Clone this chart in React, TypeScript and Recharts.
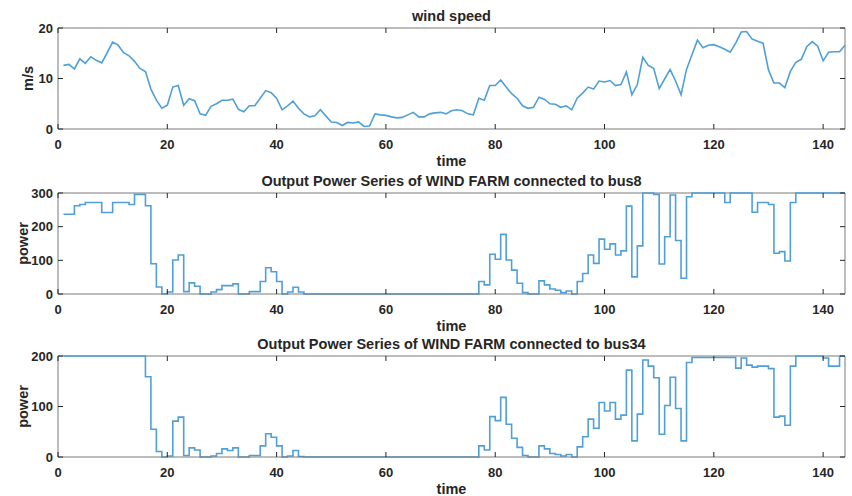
import { Line, LineChart, ReferenceLine, XAxis, YAxis } from 'recharts';

const time = Array.from({ length: 144 }, (_, i) => i + 1);

const windSpeed = [
    12.6, 12.8, 11.9, 13.9, 13.0, 14.3, 13.6, 13.1, 15.1, 17.2,
    16.6, 15.1, 14.5, 13.4, 12.0, 11.4, 7.9, 5.7, 4.1, 4.7,
    8.3, 8.6, 4.7, 6.0, 5.6, 3.0, 2.7, 4.5, 5.0, 5.7,
    5.7, 5.9, 3.9, 3.4, 4.6, 4.6, 6.1, 7.6, 7.2, 6.1,
    3.8, 4.6, 5.5, 4.1, 3.0, 2.4, 2.6, 3.8, 2.6, 1.4,
    1.3, 0.7, 1.3, 1.2, 1.4, 0.5, 0.6, 3.0, 2.8, 2.7,
    2.4, 2.2, 2.3, 2.8, 3.3, 2.4, 2.4, 3.0, 3.2, 3.3,
    3.0, 3.6, 3.8, 3.6, 3.0, 2.8, 6.1, 5.7, 8.6, 8.6,
    9.7, 8.3, 7.0, 6.1, 4.6, 4.1, 4.3, 6.3, 5.9, 5.0,
    4.9, 4.3, 4.6, 3.8, 6.1, 7.1, 8.3, 7.9, 9.5, 9.3,
    9.6, 8.6, 8.8, 11.3, 6.8, 8.8, 14.2, 12.6, 12.0, 8.0,
    9.9, 11.8, 9.5, 6.8, 11.8, 14.7, 17.6, 16.1, 16.6, 16.7,
    16.3, 15.8, 15.2, 17.0, 19.2, 19.3, 17.8, 17.4, 17.0, 11.7,
    9.1, 9.1, 8.2, 11.4, 13.2, 13.8, 16.3, 17.3, 16.4, 13.5,
    15.2, 15.3, 15.3, 16.6,
];

const powerBus8 = [
    237, 237, 262, 266, 272, 272, 272, 242, 242, 272,
    272, 272, 266, 296, 296, 262, 90, 21, 0, 6,
    101, 116, 7, 33, 23, 0, 0, 6, 13, 25,
    25, 30, 0, 0, 7, 7, 37, 78, 66, 37,
    0, 6, 20, 6, 0, 0, 0, 0, 0, 0,
    0, 0, 0, 0, 0, 0, 0, 0, 0, 0,
    0, 0, 0, 0, 0, 0, 0, 0, 0, 0,
    0, 0, 0, 0, 0, 0, 37, 27, 118, 103,
    177, 101, 71, 32, 4, 0, 0, 39, 27, 15,
    11, 4, 9, 0, 37, 61, 116, 91, 163, 133,
    149, 116, 128, 261, 51, 143, 300, 300, 296, 89,
    170, 294, 159, 47, 289, 300, 300, 300, 300, 300,
    300, 272, 300, 300, 300, 300, 243, 272, 272, 266,
    121, 126, 98, 272, 300, 300, 300, 300, 300, 300,
    300, 300, 300, 300,
];

const powerBus34 = [
    200, 200, 200, 200, 200, 200, 200, 200, 200, 200,
    200, 200, 200, 200, 200, 159, 55, 11, 0, 2,
    71, 79, 3, 18, 14, 0, 0, 2, 7, 16,
    13, 18, 0, 0, 3, 3, 22, 46, 39, 22,
    0, 2, 13, 1, 0, 0, 0, 0, 0, 0,
    0, 0, 0, 0, 0, 0, 0, 0, 0, 0,
    0, 0, 0, 0, 0, 0, 0, 0, 0, 0,
    0, 0, 0, 0, 0, 0, 22, 14, 80, 72,
    118, 65, 37, 19, 3, 0, 0, 22, 16, 7,
    5, 2, 5, 0, 20, 40, 75, 57, 108, 91,
    108, 75, 83, 172, 32, 85, 192, 180, 157, 45,
    102, 158, 96, 32, 187, 197, 197, 197, 197, 197,
    197, 197, 197, 176, 196, 182, 178, 180, 180, 175,
    79, 81, 63, 180, 200, 200, 200, 200, 200, 196,
    180, 180, 200, 200,
];

const xTicks = [0, 20, 40, 60, 80, 100, 120, 140];

const rows = time.map((t, i) => ({ time: t, speed: windSpeed[i], bus8: powerBus8[i], bus34: powerBus34[i] }));

const font = '"Liberation Sans", Arial, Helvetica, sans-serif';
const textColor = '#262626';
const axisColor = '#7a7a7a';
const lineColor = '#4f9fd8';
const plotTop = 28;
const plotH = 101;
const plotW = 787;

function XTick(props: any) {
    const { x, y, payload } = props;
    return (
        <g>
            <line x1={x} y1={y} x2={x} y2={y - 5} stroke={textColor} />
            <line x1={x} y1={y - plotH} x2={x} y2={y - plotH + 5} stroke={textColor} />
            <text x={x} y={y + 15} textAnchor="middle" dominantBaseline="central" fontFamily={font} fontSize={13} fontWeight={700} fill={textColor}>
                {payload.value}
            </text>
        </g>
    );
}

function YTick(props: any) {
    const { x, y, payload } = props;
    return (
        <g>
            <line x1={x} y1={y} x2={x + 5} y2={y} stroke={textColor} />
            <line x1={x + plotW} y1={y} x2={x + plotW - 5} y2={y} stroke={textColor} />
            <text x={x - 5} y={y} textAnchor="end" dominantBaseline="central" fontFamily={font} fontSize={13} fontWeight={700} fill={textColor}>
                {payload.value}
            </text>
        </g>
    );
}

type PanelProps = {
    top: number;
    height: number;
    title: string;
    yLabel: string;
    yLabelX: number;
    dataKey: string;
    yMax: number;
    yTicks: number[];
    step?: boolean;
};

function Panel({ top, height, title, yLabel, yLabelX, dataKey, yMax, yTicks, step }: PanelProps) {
    return (
        <div style={{ position: 'absolute', left: 0, top, width: 852, height }}>
            <LineChart width={852} height={height} data={rows} margin={{ top: plotTop, right: 7, bottom: 0, left: 0 }}>
                <XAxis
                    dataKey="time"
                    type="number"
                    domain={[0, 144]}
                    ticks={xTicks}
                    height={height - plotTop - plotH}
                    tickSize={0}
                    tickMargin={0}
                    tickLine={false}
                    stroke={axisColor}
                    tick={(p: any) => <XTick {...p} />}
                    label={(p: any) => {
                        const vb = p.viewBox;
                        return (
                            <text x={vb.x + vb.width / 2} y={vb.y + 32} textAnchor="middle" dominantBaseline="central" fontFamily={font} fontSize={14.5} fontWeight={700} fill={textColor}>
                                time
                            </text>
                        );
                    }}
                />
                <YAxis
                    type="number"
                    domain={[0, yMax]}
                    ticks={yTicks}
                    width={58}
                    tickSize={0}
                    tickMargin={0}
                    tickLine={false}
                    stroke={axisColor}
                    tick={(p: any) => <YTick {...p} />}
                    label={(p: any) => {
                        const vb = p.viewBox;
                        const cy = vb.y + vb.height / 2;
                        return (
                            <text x={yLabelX} y={cy} transform={`rotate(-90 ${yLabelX} ${cy})`} textAnchor="middle" dominantBaseline="central" fontFamily={font} fontSize={14.5} fontWeight={700} fill={textColor}>
                                {yLabel}
                            </text>
                        );
                    }}
                />
                <ReferenceLine y={yMax} stroke={axisColor} />
                <ReferenceLine x={144} stroke={axisColor} />
                <Line
                    dataKey={dataKey}
                    type={step ? 'stepAfter' : 'linear'}
                    stroke={lineColor}
                    strokeWidth={1.6}
                    dot={false}
                    isAnimationActive={false}
                />
            </LineChart>
            <div
                style={{
                    position: 'absolute',
                    left: 58,
                    width: plotW,
                    top: plotTop - 21,
                    height: 18,
                    lineHeight: '18px',
                    textAlign: 'center',
                    fontFamily: font,
                    fontSize: 14.5,
                    fontWeight: 700,
                    color: textColor,
                    whiteSpace: 'nowrap',
                }}
            >
                {title}
            </div>
        </div>
    );
}

export default function App() {
    return (
        <div style={{ position: 'absolute', left: 0, top: 0, width: 852, height: 496, background: '#fff' }}>
            <Panel top={0} height={170} title="wind speed" yLabel="m/s" yLabelX={28} dataKey="speed" yMax={20} yTicks={[0, 10, 20]} />
            <Panel top={165} height={170} title="Output Power Series of WIND FARM connected to bus8" yLabel="power" yLabelX={23} dataKey="bus8" yMax={300} yTicks={[0, 100, 200, 300]} step />
            <Panel top={328} height={168} title="Output Power Series of WIND FARM connected to bus34" yLabel="power" yLabelX={23} dataKey="bus34" yMax={200} yTicks={[0, 100, 200]} step />
        </div>
    );
}
